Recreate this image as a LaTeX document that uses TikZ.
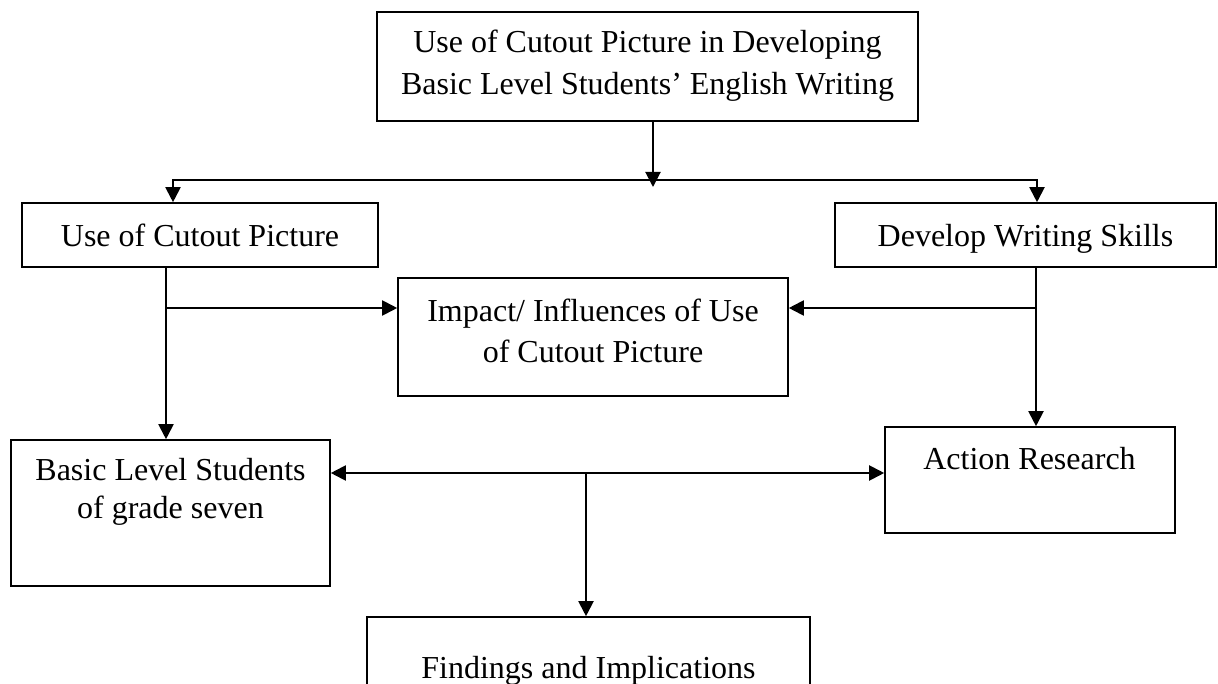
\documentclass[tikz,border=0pt]{standalone}
\usepackage{fontspec}
\setmainfont{Liberation Serif}
\usetikzlibrary{arrows.meta}
\tikzset{
  box/.style={draw, line width=1.6pt, rectangle, inner sep=0pt},
  txt/.style={align=center, inner sep=0pt, font=\fontsize{32}{41.6}\selectfont},
  txtb/.style={align=center, inner sep=0pt, font=\fontsize{32}{37.5}\selectfont},
  conn/.style={line width=2pt},
  arr/.style={conn, -{Triangle[length=15pt,width=15pt]}},
  darr/.style={conn, {Triangle[length=15pt,width=15pt]}-{Triangle[length=15pt,width=15pt]}}
}
\begin{document}
\begin{tikzpicture}[x=1pt, y=-1pt]
\clip (0,0) rectangle (1218,684);
\fill[white] (0,0) rectangle (1218,684);
% boxes
\node[box, minimum width=541pt, minimum height=109pt] (top) at (647.5,66.5) {};
\node[txt] (toptxt) at (647.5,65) {\strut Use of Cutout Picture in Developing\\\strut Basic Level Students’ English Writing};
\node[box, minimum width=356pt, minimum height=64pt] (ucp) at (200,235) {};
\node[txt] (ucptxt) at (200,238) {\strut Use of Cutout Picture};
\node[box, minimum width=381pt, minimum height=64pt] (dws) at (1025.5,235) {};
\node[txt] (dwstxt) at (1025.5,238) {\strut Develop Writing Skills};
\node[box, minimum width=390pt, minimum height=118pt] (imp) at (593,337) {};
\node[txt] (imptxt) at (593,333.5) {\strut Impact/ Influences of Use\\\strut of Cutout Picture};
\node[box, minimum width=319pt, minimum height=146pt] (basic) at (170.5,513) {};
\node[txtb] (basictxt) at (170.5,492) {\strut Basic Level Students\\\strut of grade seven};
\node[box, minimum width=290pt, minimum height=106pt] (ar) at (1030,480) {};
\node[txt] (artxt) at (1029.5,461) {\strut Action Research};
\node[box, minimum width=443pt, minimum height=120pt] (find) at (588.5,677) {};
\node[txt] (findtxt) at (588.5,670) {\strut Findings and Implications};
% junction coordinates
\coordinate (tip) at (653,187);
\coordinate (hl) at (173,180);
\coordinate (hr) at (1037,180);
\coordinate (lv) at (166,308);
\coordinate (rv) at (1036,308);
\coordinate (hm) at (586,473);
% connectors
\draw[arr] (top.south -| tip) -- (tip);
\draw[darr] (ucp.north -| hl) -- (hl) -- (hr) -- (dws.north -| hr);
\draw[arr] (ucp.south -| lv) -- (basic.north -| lv);
\draw[arr] (lv) -- (imp.west |- lv);
\draw[arr] (dws.south -| rv) -- (ar.north -| rv);
\draw[arr] (rv) -- (imp.east |- rv);
\draw[darr] (basic.east |- hm) -- (ar.west |- hm);
\draw[arr] (hm) -- (find.north -| hm);
\end{tikzpicture}
\end{document}
